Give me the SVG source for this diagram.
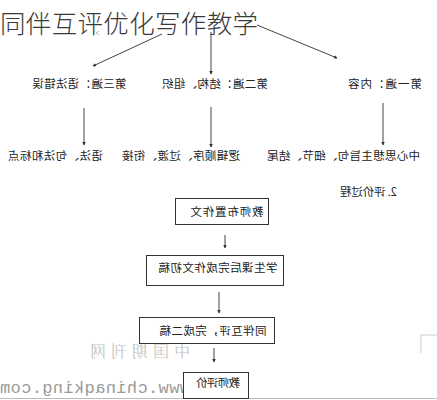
<svg xmlns="http://www.w3.org/2000/svg" width="437" height="400" viewBox="0 0 437 400">
<style>
.t{font-family:"Noto Sans CJK SC","Liberation Sans",sans-serif;font-size:11.5px;fill:#222;text-anchor:middle}
.title{font-family:"Noto Sans CJK SC","Liberation Sans",sans-serif;font-size:25.5px;font-weight:300;fill:#3a3a3a}
.box{fill:#fff;stroke:#333;stroke-width:1}
.ln{stroke:#444;stroke-width:1;fill:none}
.wm{font-family:"Noto Serif CJK SC","Noto Sans CJK SC",serif;font-size:16px;fill:#c4c4c4;text-anchor:middle}
.wm2{font-family:"Liberation Mono",monospace;font-size:17px;fill:#9a9a9a;text-anchor:middle}
</style>
<defs>
<marker id="ah" viewBox="0 0 6 6" refX="5" refY="3" markerWidth="3.5" markerHeight="3.5" orient="auto">
<path d="M0,0 L6,3 L0,6 z" fill="#333"/>
</marker>
</defs>
<rect width="437" height="400" fill="#fff"/>
<g id="watermark">
<text class="wm" transform="translate(140,357) scale(-1,1)" textLength="100" lengthAdjust="spacing">中国期刊网</text>
<text class="wm2" transform="translate(95,393) scale(-1,1)" textLength="190" lengthAdjust="spacing">www.chinaqking.com</text>
<path d="M421,353 L421,335 L437,335" stroke="#ccc" fill="none"/>
<line x1="0" y1="398.5" x2="437" y2="398.5" stroke="#bbb"/>
</g>
<g id="title"><text class="title" x="0" y="33" textLength="258" lengthAdjust="spacing">同伴互评优化写作教学</text></g>
<g id="connectors">
<line class="ln" x1="162" y1="34" x2="93" y2="66" marker-end="url(#ah)"/>
<line class="ln" x1="211" y1="32" x2="211" y2="74" marker-end="url(#ah)"/>
<line class="ln" x1="257" y1="25" x2="337" y2="58" marker-end="url(#ah)"/>
<path d="M99,31 L96,33 L99,35" stroke="#bbb" fill="none"/>
<line class="ln" x1="84" y1="108" x2="84" y2="145" marker-end="url(#ah)"/>
<line class="ln" x1="211" y1="107" x2="211" y2="147" marker-end="url(#ah)"/>
<line class="ln" x1="383" y1="103" x2="383" y2="145" marker-end="url(#ah)"/>
<line class="ln" x1="225" y1="235" x2="225" y2="248" marker-end="url(#ah)"/>
<line class="ln" x1="219" y1="292" x2="219" y2="313" marker-end="url(#ah)"/>
<line class="ln" x1="214" y1="348" x2="214" y2="362" marker-end="url(#ah)"/>
</g>
<g id="n-third"><text class="t" transform="translate(79.5,88) scale(-1,1)" textLength="94" lengthAdjust="spacing">第三遍：语法错误</text></g>
<g id="n-second"><text class="t" transform="translate(215,88) scale(-1,1)" textLength="106" lengthAdjust="spacing">第二遍：结构、组织</text></g>
<g id="n-first"><text class="t" transform="translate(385,88) scale(-1,1)" textLength="74" lengthAdjust="spacing">第一遍：内容</text></g>
<g id="n-grammar"><text class="t" transform="translate(55.5,160) scale(-1,1)" textLength="95" lengthAdjust="spacing">语法、句法和标点</text></g>
<g id="n-logic"><text class="t" transform="translate(181,160) scale(-1,1)" textLength="118" lengthAdjust="spacing">逻辑顺序、过渡、衔接</text></g>
<g id="n-content"><text class="t" transform="translate(343.5,160) scale(-1,1)" textLength="153" lengthAdjust="spacing">中心思想主旨句、细节、结尾</text></g>
<g id="n-process"><text class="t" transform="translate(368.5,196) scale(-1,1)" textLength="57" lengthAdjust="spacing">2. 评价过程</text></g>
<g id="b1"><rect class="box" x="175.5" y="198.5" width="93" height="26"/><text class="t" transform="translate(227,216) scale(-1,1)" textLength="73" lengthAdjust="spacing">教师布置作文</text></g>
<g id="b2"><rect class="box" x="146.5" y="255.5" width="137" height="30"/><text class="t" transform="translate(218,272) scale(-1,1)" textLength="119" lengthAdjust="spacing">学生课后完成作文初稿</text></g>
<g id="b3"><rect class="box" x="139.5" y="317.5" width="135" height="26"/><text class="t" transform="translate(213,335) scale(-1,1)" textLength="107" lengthAdjust="spacing">同伴互评，完成二稿</text></g>
<g id="b4"><rect class="box" x="183.5" y="372.5" width="65" height="26"/><text class="t" transform="translate(218,387) scale(-1,1)" textLength="44" lengthAdjust="spacing">教师评价</text></g>
</svg>
